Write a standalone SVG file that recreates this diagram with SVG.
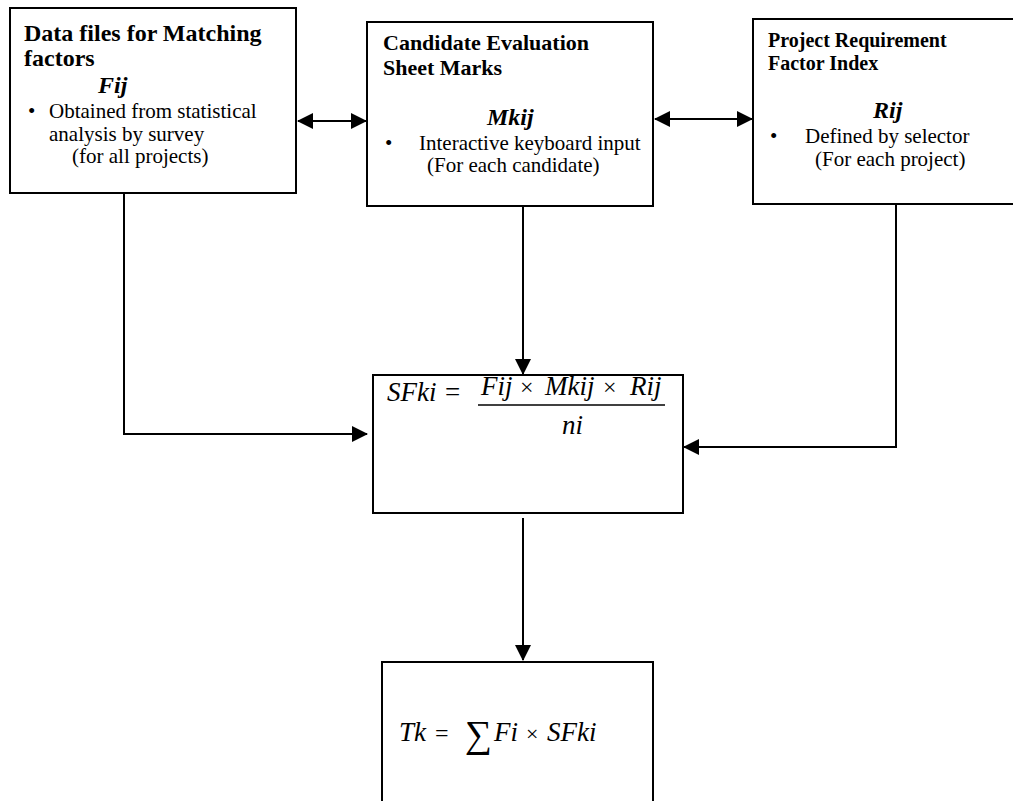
<svg xmlns="http://www.w3.org/2000/svg" width="1013" height="801" viewBox="0 0 1013 801">
<style>
.box{fill:#fff;stroke:#000;stroke-width:2}
.t{font-family:'Liberation Serif','Tinos','Times New Roman','DejaVu Serif',serif;fill:#000}
.h{font-weight:bold}
.b{font-size:21px}
.bi{font-weight:bold;font-style:italic;font-size:24px}
.m{font-style:italic;font-size:27px}
.c{fill:none;stroke:#000;stroke-width:2}
</style>
<defs>
<marker id="ah" viewBox="0 0 16 16" refX="15" refY="8" markerWidth="16" markerHeight="16" markerUnits="userSpaceOnUse" orient="auto-start-reverse">
<path d="M0,0 L16,8 L0,16 Z" fill="#000"/>
</marker>
</defs>
<rect width="1013" height="801" fill="#fff"/>
<g id="connectors">
<line class="c" x1="298" y1="121" x2="366" y2="121" marker-start="url(#ah)" marker-end="url(#ah)"/>
<line class="c" x1="655" y1="119" x2="752" y2="119" marker-start="url(#ah)" marker-end="url(#ah)"/>
<polyline class="c" points="124,193 124,434 367,434" marker-end="url(#ah)"/>
<line class="c" x1="523" y1="206" x2="523" y2="374" marker-end="url(#ah)"/>
<polyline class="c" points="896,204 896,447 684,447" marker-end="url(#ah)"/>
<line class="c" x1="523" y1="518" x2="523" y2="660" marker-end="url(#ah)"/>
</g>
<g id="node-fij">
<rect class="box" x="10" y="8" width="286" height="185"/>
<text class="t h" x="24" y="41" font-size="24">Data files for Matching</text>
<text class="t h" x="24" y="66" font-size="24">factors</text>
<text class="t bi" x="98" y="93">Fij</text>
<text class="t b" x="28" y="118">•</text>
<text class="t b" x="49" y="118">Obtained from statistical</text>
<text class="t b" x="49" y="141">analysis by survey</text>
<text class="t b" x="72" y="163">(for all projects)</text>
</g>
<g id="node-mkij">
<rect class="box" x="367" y="22" width="286" height="184"/>
<text class="t h" x="383" y="50" font-size="22">Candidate Evaluation</text>
<text class="t h" x="383" y="75" font-size="22">Sheet Marks</text>
<text class="t bi" x="487" y="125">Mkij</text>
<text class="t b" x="385" y="150">•</text>
<text class="t b" x="419" y="150">Interactive keyboard input</text>
<text class="t b" x="427" y="172">(For each candidate)</text>
</g>
<g id="node-rij">
<rect class="box" x="753" y="19" width="270" height="185"/>
<text class="t h" x="768" y="47" font-size="20">Project Requirement</text>
<text class="t h" x="768" y="70" font-size="20">Factor Index</text>
<text class="t bi" x="873" y="118">Rij</text>
<text class="t b" x="770" y="143">•</text>
<text class="t b" x="805" y="143">Defined by selector</text>
<text class="t b" x="815" y="166">(For each project)</text>
</g>
<g id="node-sfki">
<rect class="box" x="373" y="375" width="310" height="138"/>
<text class="t m" x="387" y="401">SFki</text>
<text class="t" x="445" y="401" font-size="27">=</text>
<text class="t m" x="481" y="395">Fij</text>
<text class="t" x="520" y="395" font-size="24">×</text>
<text class="t m" x="545" y="395">Mkij</text>
<text class="t" x="603" y="395" font-size="24">×</text>
<text class="t m" x="630" y="395">Rij</text>
<line x1="478" y1="405" x2="665" y2="405" stroke="#000" stroke-width="1.5"/>
<text class="t m" x="562" y="434">ni</text>
</g>
<g id="node-tk">
<rect class="box" x="382" y="662" width="271" height="150"/>
<text class="t m" x="399" y="741" font-size="24">Tk</text>
<text class="t" x="435" y="741" font-size="24">=</text>
<text class="t" x="465" y="747" font-size="38">∑</text>
<text class="t m" x="494" y="741" font-size="25">Fi</text>
<text class="t" x="526" y="741" font-size="22">×</text>
<text class="t m" x="547" y="741" font-size="25">SFki</text>
</g>
</svg>
